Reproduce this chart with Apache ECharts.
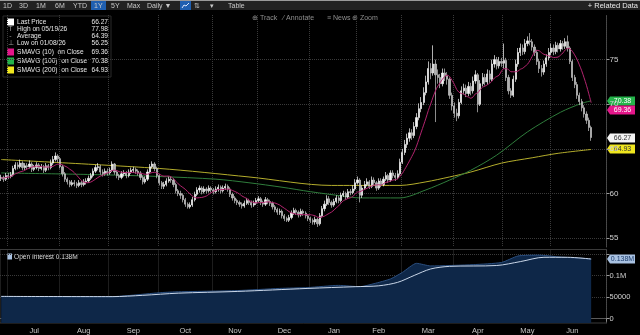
<!DOCTYPE html>
<html><head><meta charset="utf-8">
<script src="https://cdn.jsdelivr.net/npm/echarts@6/dist/echarts.min.js"></script>
<style>html,body{margin:0;padding:0;background:#000;}#c{width:640px;height:335px;}</style>
</head><body><div id="c"></div>
<script>
// ---------- calendar ----------
const totalSlots = 257;
const holidays = ['2025-07-04','2025-09-01','2025-11-27','2025-12-25','2026-01-01','2026-01-19','2026-02-16','2026-04-03','2026-05-25','2026-06-19','2026-07-03'];
const monthNames = ['Jan','Feb','Mar','Apr','May','Jun','Jul','Aug','Sep','Oct','Nov','Dec'];

// ---------- price (daily OHLC) ----------
const closes = [61.8,61.6,62.0,61.9,62.1,62.8,63.2,63.0,63.4,62.9,63.1,63.0,63.3,62.7,62.9,63.2,62.8,63.0,62.6,63.1,
62.9,63.4,63.8,64.2,63.9,63.0,62.2,61.6,61.3,61.0,61.2,61.1,60.9,61.2,61.0,61.3,61.4,61.7,62.0,62.5,
62.9,63.0,62.4,62.2,62.5,62.3,62.6,63.3,62.4,62.0,61.8,62.2,62.3,62.0,62.4,62.6,62.7,62.5,62.3,61.8,
61.3,61.6,62.4,63.0,63.3,62.8,62.0,61.2,60.8,61.0,61.4,61.6,61.5,61.0,60.3,60.0,59.8,59.3,58.8,58.5,
58.7,59.3,59.9,60.4,60.6,60.2,60.5,60.3,60.6,60.4,60.2,60.5,60.7,60.3,60.6,60.8,60.5,59.9,59.5,59.2,
59.0,58.8,58.6,58.9,59.2,59.0,58.7,58.9,59.2,59.4,59.0,58.8,59.3,59.1,58.9,58.5,58.2,57.9,58.0,57.5,
57.2,57.0,57.3,57.8,58.1,57.9,57.6,58.0,57.8,57.5,57.2,57.0,56.8,57.1,56.6,57.5,58.3,58.8,59.4,59.0,
58.7,59.1,59.5,59.2,59.8,60.0,59.6,60.2,60.1,60.5,61.2,61.5,59.8,60.6,61.0,61.3,60.8,61.5,61.2,60.6,
61.4,61.0,61.6,62.0,61.5,62.3,62.0,61.8,62.2,63.5,64.6,65.5,66.2,66.8,66.5,67.5,68.5,69.5,70.2,71.3,
72.5,74.0,73.5,74.5,73.3,73.0,72.3,73.5,73.2,72.8,71.0,69.8,69.0,68.7,70.2,71.5,71.8,71.2,72.0,71.5,
72.6,73.3,70.0,72.3,73.0,72.5,73.4,72.8,74.5,75.0,74.3,74.8,74.6,74.9,73.0,71.5,71.0,72.8,74.5,75.8,
76.3,75.9,76.8,77.1,77.0,76.4,75.8,74.8,74.0,73.6,74.5,75.2,75.8,76.3,75.9,76.6,76.2,76.8,76.5,77.0,
76.3,74.8,73.0,72.2,71.0,70.3,69.6,68.9,68.2,67.4,66.27];
const opens = [61.7,61.8,61.6,62.0,61.9,62.1,62.8,63.2,63.0,63.4,62.9,63.1,63.0,63.3,62.7,62.9,63.2,62.8,63.0,62.6,
63.1,62.9,63.4,63.8,64.2,63.9,63.0,62.2,61.6,61.3,61.0,61.2,61.1,60.9,61.2,61.0,61.3,61.4,61.7,62.0,
62.5,62.9,63.0,62.4,62.2,62.5,62.3,62.6,63.3,62.4,62.0,61.8,62.2,62.3,62.0,62.4,62.6,62.7,62.5,62.3,
61.8,61.3,61.6,62.4,63.0,63.3,62.8,62.0,61.2,60.8,61.0,61.4,61.6,61.5,61.0,60.3,60.0,59.8,59.3,58.8,
58.5,58.7,59.3,59.9,60.4,60.6,60.2,60.5,60.3,60.6,60.4,60.2,60.5,60.7,60.3,60.6,60.8,60.5,59.9,59.5,
59.2,59.0,58.8,58.6,58.9,59.2,59.0,58.7,58.9,59.2,59.4,59.0,58.8,59.3,59.1,58.9,58.5,58.2,57.9,58.0,
57.5,57.2,57.0,57.3,57.8,58.1,57.9,57.6,58.0,57.8,57.5,57.2,57.0,56.8,57.1,56.6,57.5,58.3,58.8,59.4,
59.0,58.7,59.1,59.5,59.2,59.8,60.0,59.6,60.2,60.1,60.5,61.2,61.5,59.8,60.6,61.0,61.3,60.8,61.5,61.2,
60.6,61.4,61.0,61.6,62.0,61.5,62.3,62.0,61.8,62.2,63.5,64.6,65.5,66.2,66.8,66.5,67.5,68.5,69.5,70.2,
71.3,72.5,74.0,73.5,74.5,73.3,73.0,72.3,73.5,73.2,72.8,71.0,69.8,69.0,68.7,70.2,71.5,71.8,71.2,72.0,
71.5,72.6,73.3,70.0,72.3,73.0,72.5,73.4,72.8,74.5,75.0,74.3,74.8,74.6,74.9,73.0,71.5,71.0,72.8,74.5,
75.8,76.3,75.9,76.8,77.1,77.0,76.4,75.8,74.8,74.0,73.6,74.5,75.2,75.8,76.3,75.9,76.6,76.2,76.8,76.5,
77.0,76.3,74.8,73.0,72.2,71.0,70.3,69.6,68.9,68.2,67.4];
const highs = [62.1,62.0,62.3,62.3,62.4,63.1,63.5,63.5,63.8,63.6,63.4,63.4,63.7,63.5,63.2,63.5,63.4,63.3,63.2,63.4,
63.3,63.8,64.2,64.6,64.4,64.1,63.2,62.4,61.8,61.5,61.5,61.5,61.3,61.5,61.4,61.6,61.7,62.0,62.3,62.8,
63.2,63.4,63.2,62.7,62.8,62.8,62.9,63.6,63.4,62.6,62.2,62.5,62.6,62.5,62.7,62.9,63.0,62.9,62.7,62.5,
62.0,61.9,62.7,63.3,63.6,63.5,63.0,62.2,61.4,61.3,61.7,61.9,61.9,61.7,61.2,60.5,60.3,60.0,59.5,59.0,
59.0,59.6,60.2,60.7,60.9,60.8,60.8,60.7,60.9,60.8,60.6,60.8,61.0,60.9,60.9,61.1,61.0,60.7,60.1,59.7,
59.4,59.2,59.0,59.2,59.5,59.4,59.2,59.2,59.5,59.7,59.6,59.2,59.6,59.5,59.3,59.1,58.7,58.4,58.3,58.2,
57.7,57.4,57.6,58.1,58.4,58.3,58.1,58.3,58.2,58.0,57.7,57.4,57.2,57.4,57.3,57.8,58.6,59.2,59.8,59.7,
59.2,59.4,59.8,59.7,60.1,60.3,60.2,60.5,60.5,60.9,61.6,61.9,61.7,60.9,61.4,61.7,61.5,61.9,61.8,61.4,
61.7,61.7,61.9,62.4,62.2,62.6,62.6,62.3,62.6,63.9,65.0,66.0,66.7,67.3,67.2,68.0,69.0,70.1,70.8,71.9,
73.2,74.8,74.6,76.6,75.0,73.9,73.4,74.0,74.0,73.6,73.0,71.3,70.2,69.5,70.6,72.0,72.3,72.2,72.5,72.4,
73.1,73.8,73.5,72.7,73.5,73.4,73.9,73.8,75.0,75.5,75.3,75.3,75.2,76.8,75.2,73.3,71.8,73.2,75.0,76.3,
76.8,76.7,77.3,77.6,77.98,77.3,76.7,76.1,75.1,74.4,74.9,75.6,76.3,76.8,76.7,77.0,76.9,77.2,77.1,77.4,
77.7,76.5,75.0,73.3,72.5,71.3,70.6,69.9,69.2,68.5,67.6];
const lows = [61.4,61.3,61.4,61.6,61.7,61.9,62.6,62.7,62.8,62.6,62.6,62.7,62.8,62.4,62.5,62.7,62.5,62.6,62.3,62.4,
62.6,62.7,63.2,63.6,63.5,62.8,61.9,61.3,61.0,60.7,60.8,60.8,60.6,60.7,60.7,60.8,61.0,61.2,61.5,61.8,
62.3,62.6,62.1,61.9,62.0,62.0,62.1,62.4,62.1,61.7,61.5,61.6,61.9,61.7,61.8,62.2,62.3,62.2,62.0,61.5,
61.0,61.1,61.4,62.2,62.8,62.5,61.7,60.9,60.5,60.5,60.8,61.2,61.2,60.7,60.0,59.7,59.4,59.0,58.5,58.3,
58.3,58.5,59.1,59.7,60.1,59.9,60.0,60.0,60.1,60.1,59.9,60.0,60.2,60.0,60.1,60.4,60.2,59.6,59.2,58.9,
58.7,58.5,58.3,58.4,58.7,58.7,58.4,58.5,58.7,59.0,58.7,58.5,58.6,58.8,58.6,58.2,57.9,57.6,57.6,57.2,
56.9,56.8,56.8,57.1,57.6,57.6,57.3,57.4,57.5,57.2,56.9,56.7,56.5,56.5,56.25,56.4,57.3,58.0,58.6,58.7,
58.4,58.5,58.9,58.9,59.0,59.6,59.3,59.4,59.8,59.9,60.3,61.0,59.0,59.5,60.4,60.8,60.5,60.6,60.9,60.3,
60.4,60.7,60.8,61.4,61.2,61.3,61.7,61.4,61.6,62.0,63.3,64.3,65.1,65.8,66.0,66.2,67.2,68.2,69.1,69.9,
71.0,72.2,72.8,73.2,68.0,72.3,71.8,72.0,72.6,72.2,70.6,69.3,68.5,68.1,68.4,70.0,71.1,70.8,70.9,71.0,
71.2,72.3,69.1,69.8,72.0,72.1,72.2,72.4,72.6,74.1,73.9,74.0,74.2,74.0,72.6,71.1,70.7,70.8,72.5,74.2,
75.4,75.5,75.6,76.5,76.6,76.0,75.4,74.4,73.5,73.1,73.3,74.2,74.9,75.5,75.5,75.6,75.8,75.9,76.1,76.2,
75.9,74.5,72.6,71.8,70.6,69.9,69.2,68.5,67.8,67.0,65.9];

// ---------- moving averages (index, value) ----------
const sma100Pts = [[0,62.3],[42,62.1],[67,61.9],[91,61.6],[105,61.2],[119,60.7],[131,60.2],[145,59.7],[152,59.5],[169,59.5],
[180,60.4],[190,61.5],[199,62.6],[210,64.3],[223,66.9],[237,69.1],[246,70.1],[250,70.38]];
const sma200Pts = [[0,63.8],[67,62.8],[105,61.85],[140,60.9],[150,60.9],[169,60.9],[180,61.3],[190,61.85],[199,62.4],
[212,63.4],[225,64.0],[236,64.5],[250,64.93]];

// ---------- open interest (index, value) ----------
const oiPts = [[0,51500],[20,51000],[47,51000],[55,54000],[67,60000],[74,62000],[100,65000],[118,70000],[130,72000],
[143,77000],[152,74000],[158,81000],[165,92000],[170,107000],[176,128000],[182,122000],[200,125000],[212,130000],
[219,145000],[228,147000],[236,143000],[245,140000],[250,138000]];
const oiAvgPts = [[0,51500],[47,51000],[60,54000],[75,59000],[100,63000],[130,70000],[150,74000],[160,76000],[168,84000],
[175,100000],[182,115000],[190,121000],[210,123000],[220,132000],[230,142000],[240,142000],[250,138000]];

// ---------- axis ticks / legend / tags ----------
const priceTicks = [55,60,65,70,75];
const oiTicks = [0,50000,100000,150000];
const oiLabelTicks = [0,50000,100000];
const legendRows = [
  {label:'Last Price', value:66.27, icon:'box', color:'#ffffff'},
  {label:'High on 05/19/26', value:77.98, icon:'T'},
  {label:'Average', value:64.39, icon:'-'},
  {label:'Low on 01/08/26', value:56.25, icon:'\u22A5'},
  {label:'SMAVG (10)  on Close', value:69.36, icon:'box', color:'#e4168a'},
  {label:'SMAVG (100)  on Close', value:70.38, icon:'box', color:'#24b34a'},
  {label:'SMAVG (200)  on Close', value:64.93, icon:'box', color:'#efe61e'}
];
const toolbarItems = ['1D','3D','1M','6M','YTD','1Y','5Y','Max','Daily \u25BC'];
const toolbarX = [3,19,36,55,73,94,111,127,147];

// ---------- build ----------
const dates = [];
{
  let t = Date.UTC(2025,5,26);
  while (dates.length < totalSlots) {
    const d = new Date(t);
    const s = d.toISOString().slice(0,10);
    const wd = d.getUTCDay();
    if (wd !== 0 && wd !== 6 && holidays.indexOf(s) < 0) dates.push(s);
    t += 86400000;
  }
}
const nData = closes.length;
const monthStart = new Set();
const labelIdx = new Set();
{
  const starts = [];
  for (let i = 1; i < nData; i++) if (dates[i].slice(5,7) !== dates[i-1].slice(5,7)) starts.push(i);
  starts.forEach(s => monthStart.add(s));
  for (let k = 0; k < starts.length; k++) {
    const e = k + 1 < starts.length ? starts[k+1] : nData;
    labelIdx.add(starts[k] + Math.floor((e - starts[k]) / 2));
  }
}
const candleData = closes.map((c,i) => [opens[i], c, lows[i], highs[i]]);
const sma10 = closes.map((c,i) => {
  const a = closes.slice(Math.max(0,i-9), i+1);
  return +(a.reduce((p,q)=>p+q,0)/a.length).toFixed(2);
});
const toCat = pts => pts.map(([i,v]) => [dates[i], v]);

const FONT = 'Liberation Sans, Arial, sans-serif';
const gridLine = {show:true, lineStyle:{color:'#3a3a3a', type:'dotted', width:1}};

// chrome graphics
const graphics = [];
graphics.push({type:'rect', shape:{x:0,y:0,width:640,height:10}, style:{fill:'#222'}, silent:true});
graphics.push({type:'rect', shape:{x:0,y:0,width:640,height:1}, style:{fill:'#9a9a9a'}, silent:true});
toolbarItems.forEach((t,k) => {
  if (t === '1Y') graphics.push({type:'rect', shape:{x:toolbarX[k]-3,y:1,width:15,height:9}, style:{fill:'#1f5fb0'}, silent:true});
  graphics.push({type:'text', x:toolbarX[k], y:6, style:{text:t, fill:'#c8c8c8', font:'7px '+FONT, textVerticalAlign:'middle'}, silent:true});
});
graphics.push({type:'rect', shape:{x:180,y:1,width:11,height:9}, style:{fill:'#1f5fb0'}, silent:true});
graphics.push({type:'polyline', shape:{points:[[182,8],[184,5],[186,6],[189,3]]}, style:{stroke:'#d8e6ff', lineWidth:1}, silent:true});
graphics.push({type:'text', x:194, y:6, style:{text:'\u21C5', fill:'#c8c8c8', font:'7px '+FONT, textVerticalAlign:'middle'}, silent:true});
graphics.push({type:'text', x:210, y:6, style:{text:'\u25BE', fill:'#c8c8c8', font:'7px '+FONT, textVerticalAlign:'middle'}, silent:true});
graphics.push({type:'text', x:228, y:6, style:{text:'Table', fill:'#c8c8c8', font:'7px '+FONT, textVerticalAlign:'middle'}, silent:true});
graphics.push({type:'text', x:638, y:6, style:{text:'+ Related Data', fill:'#e8e8e8', font:'7.5px '+FONT, textAlign:'right', textVerticalAlign:'middle'}, silent:true});
[['\u2295 Track',252],['\u2044 Annotate',283],['\u2261 News',327],['\u2295 Zoom',352]].forEach(([t,x]) => {
  graphics.push({type:'text', x:x, y:18, style:{text:t, fill:'#8f8f8f', font:'7px '+FONT, textVerticalAlign:'middle'}, silent:true});
});
// legend box
graphics.push({type:'rect', shape:{x:3,y:16,width:108,height:61}, style:{fill:'#000', stroke:'#2a2a2a', lineWidth:1}, silent:true});
const rowY = [22,29,36,43,52,61,70];
legendRows.forEach((r,k) => {
  const y = rowY[k];
  if (r.icon === 'box') {
    graphics.push({type:'rect', shape:{x:7,y:y-3.5,width:7,height:7}, style:{fill:r.color}, silent:true});
  } else {
    graphics.push({type:'text', x:10.5, y:y, style:{text:r.icon, fill:'#9a9a9a', font:'7px '+FONT, textAlign:'center', textVerticalAlign:'middle'}, silent:true});
  }
  graphics.push({type:'text', x:17, y:y, style:{text:r.label, fill:'#e6e6e6', font:'6.6px '+FONT, textVerticalAlign:'middle'}, silent:true});
  graphics.push({type:'text', x:108, y:y, style:{text:r.value.toFixed(2), fill:'#e6e6e6', font:'6.6px '+FONT, textAlign:'right', textVerticalAlign:'middle'}, silent:true});
});
// OI legend
graphics.push({type:'rect', shape:{x:7,y:253.5,width:5,height:6}, style:{fill:'#a9c2e2'}, silent:true});
graphics.push({type:'text', x:14, y:257, style:{text:'Open Interest ' + (oiPts[oiPts.length-1][1]/1e6).toFixed(3) + 'M', fill:'#dcdcdc', font:'6.6px '+FONT, textVerticalAlign:'middle'}, silent:true});

const option = {
  backgroundColor:'#000',
  animation:false,
  grid:[
    {left:0, right:33.5, top:15, height:232},
    {left:0, right:33.5, top:249.5, height:74.2, show:true, borderColor:'#3a3a3a', borderWidth:1, backgroundColor:'transparent'}
  ],
  xAxis:[
    {type:'category', gridIndex:0, data:dates, boundaryGap:true,
     axisLine:{show:false}, axisTick:{show:false}, axisLabel:{show:false},
     splitLine:Object.assign({interval:(i)=>monthStart.has(i)}, gridLine)},
    {type:'category', gridIndex:1, data:dates, boundaryGap:true,
     axisLine:{show:true, lineStyle:{color:'#5a5a5a'}},
     axisTick:{show:true, interval:(i)=>monthStart.has(i), length:3, lineStyle:{color:'#8a8a8a'}},
     axisLabel:{show:true, interval:(i)=>labelIdx.has(i), formatter:(v)=>monthNames[+v.slice(5,7)-1],
       color:'#c4c4c4', fontSize:7.5, fontFamily:FONT, margin:4},
     splitLine:Object.assign({interval:(i)=>monthStart.has(i)}, gridLine)}
  ],
  yAxis:[
    {type:'value', gridIndex:0, position:'right', min:54, max:80,
     axisLine:{show:true, lineStyle:{color:'#4a4a4a', type:'dotted'}},
     axisTick:{show:true, customValues:priceTicks, length:3, lineStyle:{color:'#9a9a9a'}},
     axisLabel:{show:true, customValues:priceTicks, color:'#d0d0d0', fontSize:8, fontFamily:FONT, margin:3},
     splitLine:gridLine},
    {type:'value', gridIndex:1, position:'right', min:-10000, max:160000,
     axisLine:{show:true, lineStyle:{color:'#4a4a4a', type:'dotted'}},
     axisTick:{show:true, customValues:oiTicks, length:3, lineStyle:{color:'#9a9a9a'}},
     axisLabel:{show:true, customValues:oiLabelTicks, color:'#d0d0d0', fontSize:7.5, fontFamily:FONT, margin:3,
       formatter:(v)=> v >= 100000 ? (v/1e6).toFixed(1) + 'M' : String(v)},
     splitLine:gridLine}
  ],
  series:[
    {type:'line', name:'SMAVG (200)', xAxisIndex:0, yAxisIndex:0, data:toCat(sma200Pts), smooth:0.3, showSymbol:false,
     lineStyle:{color:'#b4ad2c', width:1}, z:2},
    {type:'line', name:'SMAVG (100)', xAxisIndex:0, yAxisIndex:0, data:toCat(sma100Pts), smooth:0.3, showSymbol:false,
     lineStyle:{color:'#2f7d3c', width:1}, z:2},
    {type:'candlestick', name:'Last Price', xAxisIndex:0, yAxisIndex:0, data:candleData, barWidth:'72%',
     itemStyle:{color:'#f6f6f6', color0:'#b0b0b0', borderColor:'#fafafa', borderColor0:'#c8c8c8', borderWidth:0.7}, z:3},
    {type:'line', name:'SMAVG (10)', xAxisIndex:0, yAxisIndex:0, data:sma10, smooth:0.3, showSymbol:false,
     lineStyle:{color:'#b3246f', width:1}, z:4},
    {type:'line', name:'Open Interest', xAxisIndex:1, yAxisIndex:1, data:toCat(oiPts), smooth:0.2, showSymbol:false,
     lineStyle:{color:'#2b4f80', width:1}, areaStyle:{color:'#0e2748', opacity:1, origin:'start'}, z:2},
    {type:'line', name:'OI avg', xAxisIndex:1, yAxisIndex:1, data:toCat(oiAvgPts), smooth:0.3, showSymbol:false,
     lineStyle:{color:'#c9d6e8', width:1}, z:3}
  ],
  graphic:graphics
};
const chart = echarts.init(document.getElementById('c'), null, {renderer:'canvas'});
chart.setOption(option);

// value tags on the right axis, positioned through the axis scales
const tags = [
  {grid:0, value:sma100Pts[sma100Pts.length-1][1], text:sma100Pts[sma100Pts.length-1][1].toFixed(2), bg:'#24b34a', fg:'#ffffff'},
  {grid:0, value:legendRows[4].value, text:legendRows[4].value.toFixed(2), bg:'#e4168a', fg:'#ffffff'},
  {grid:0, value:closes[nData-1], text:closes[nData-1].toFixed(2), bg:'#f4f4f4', fg:'#333333'},
  {grid:0, value:sma200Pts[sma200Pts.length-1][1], text:sma200Pts[sma200Pts.length-1][1].toFixed(2), bg:'#efe61e', fg:'#333333'},
  {grid:1, value:oiPts[oiPts.length-1][1], text:(oiPts[oiPts.length-1][1]/1e6).toFixed(3)+'M', bg:'#a9c2e2', fg:'#1b3b6a'}
];
const tagGraphics = tags.map(t => {
  const p = chart.convertToPixel({xAxisIndex:t.grid, yAxisIndex:t.grid}, [dates[0], t.value]);
  const y = Math.round(p[1]);
  const x0 = 607, w = 28, h = 9;
  return {type:'group', silent:true, z:100, children:[
    {type:'polygon', shape:{points:[[x0,y],[x0+3,y-h/2],[x0+w,y-h/2],[x0+w,y+h/2],[x0+3,y+h/2]]}, style:{fill:t.bg}},
    {type:'text', x:x0+w/2+1.5, y:y, style:{text:t.text, fill:t.fg, font:'7px '+FONT, textAlign:'center', textVerticalAlign:'middle'}}
  ]};
});
chart.setOption({graphic:graphics.concat(tagGraphics)});
</script></body></html>
